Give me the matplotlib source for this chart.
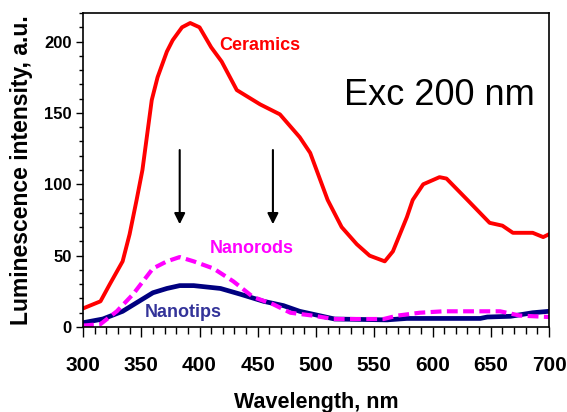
import matplotlib
matplotlib.use("Agg")
import matplotlib.pyplot as plt
from matplotlib.ticker import MultipleLocator

plt.rcParams['font.family'] = ['Liberation Sans', 'DejaVu Sans']

# Ceramics spectrum (wavelength nm, intensity a.u.)
ceramics_x = [300, 315, 323, 334, 340, 346, 351, 359, 364, 372, 377, 385, 392, 400,
              410, 419, 432, 452, 469, 486, 495, 510, 522, 535, 546, 559, 566, 578,
              583, 592, 606, 612, 630, 649, 660, 669, 686, 695, 700]
ceramics_y = [13, 18, 30, 46, 65, 89, 110, 159, 175, 193, 201, 210, 213, 210,
              196, 186, 166, 156, 149, 133, 122, 89, 70, 58, 50, 46, 53, 77,
              89, 100, 105, 104, 89, 73, 71, 66, 66, 63, 65]

# Nanorods spectrum
nanorods_x = [300, 315, 329, 343, 360, 372, 383, 395, 412, 429, 446, 463, 478,
              497, 515, 558, 570, 589, 609, 658, 675, 700]
nanorods_y = [1, 2, 11, 23, 41, 46, 49, 46, 41, 32, 21, 16, 10,
              8, 5.6, 5.6, 8, 10, 11, 11, 8, 7]

# Nanotips spectrum
nanotips_x = [300, 317, 334, 352, 360, 372, 383, 395, 418, 435, 455, 472, 486,
              516, 561, 578, 641, 647, 667, 686, 700]
nanotips_y = [3, 5.6, 11, 20, 24, 27, 29, 29, 27, 23, 18, 15, 11,
              5.6, 5, 6, 6, 7, 7.5, 10, 11]

# Arrows marking emission bands
arrow_x = [383, 463]
arrow_top = 124
arrow_bottom = 72

fig = plt.figure(figsize=(5.67, 4.12), dpi=100)
ax = fig.add_axes([0.1464, 0.2063, 0.8219, 0.7621])

ax.plot(ceramics_x, ceramics_y, color='#FF0000', lw=2.8, solid_joinstyle='round')
ax.plot(nanotips_x, nanotips_y, color='#000080', lw=3.4, solid_joinstyle='round')
ax.plot(nanorods_x, nanorods_y, color='#FF00FF', lw=3.0, linestyle=(0, (2.6, 1.3)))

for xa in arrow_x:
    ax.annotate('', xy=(xa, arrow_bottom), xytext=(xa, arrow_top),
                arrowprops=dict(arrowstyle='-|>', color='black', lw=1.5,
                                mutation_scale=16, shrinkA=0, shrinkB=0))

ax.text(417, 197, 'Ceramics', color='#FF0000', fontsize=13, fontweight='bold',
        va='center', ha='left')
ax.text(409, 55, 'Nanorods', color='#FF00FF', fontsize=13, fontweight='bold',
        va='center', ha='left')
ax.text(353, 10, 'Nanotips', color='#333399', fontsize=13, fontweight='bold',
        va='center', ha='left')
ax.text(524, 162, 'Exc 200 nm', color='black', fontsize=26, va='center', ha='left')

ax.set_xlim(300, 700)
ax.set_ylim(0, 220)
ax.xaxis.set_major_locator(MultipleLocator(50))
ax.xaxis.set_minor_locator(MultipleLocator(10))
ax.yaxis.set_major_locator(MultipleLocator(50))
ax.yaxis.set_minor_locator(MultipleLocator(10))

ax.tick_params(axis='x', which='major', length=7, width=1, pad=14, labelsize=15)
ax.tick_params(axis='x', which='minor', length=5, width=1)
ax.tick_params(axis='y', which='major', length=5, width=1, pad=3, labelsize=12)
ax.tick_params(axis='y', which='minor', length=3, width=1)
for lab in ax.get_xticklabels() + ax.get_yticklabels():
    lab.set_fontweight('bold')

for sp in ax.spines.values():
    sp.set_linewidth(1.2)

ax.set_xlabel('Wavelength, nm', fontsize=15.5, fontweight='bold', labelpad=12)
ax.set_ylabel('Luminescence intensity, a.u.', fontsize=16.5, fontweight='bold',
              labelpad=8)

fig.savefig('out.png', dpi=100)
